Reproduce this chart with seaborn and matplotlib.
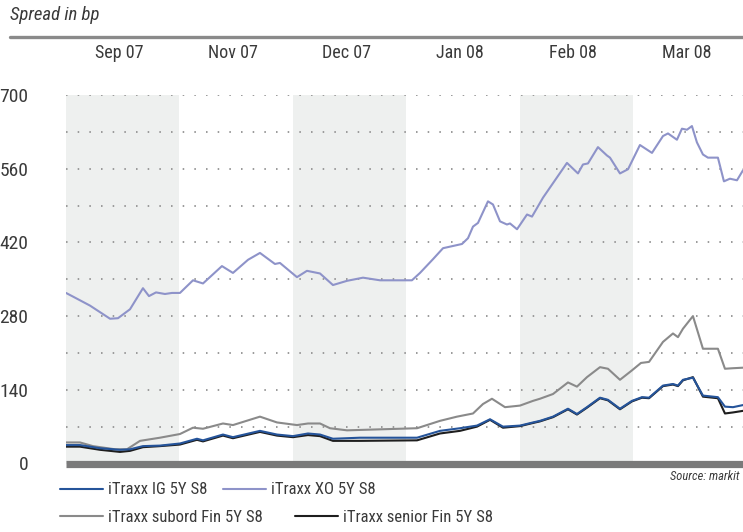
import matplotlib
matplotlib.use("Agg")
import matplotlib.pyplot as plt
from matplotlib import font_manager
import seaborn as sns
import pandas as pd

# ---------------- data ----------------
month_labels = ["Sep 07", "Nov 07", "Dec 07", "Jan 08", "Feb 08", "Mar 08"]
y_ticks = [0, 140, 280, 420, 560, 700]
grid_levels = [70, 140, 210, 280, 350, 420, 490, 560, 630, 700]

xo_x = [0.0, 0.062, 0.211, 0.388, 0.458, 0.564, 0.678, 0.731, 0.793, 0.872, 0.934,
        1.004, 1.119, 1.207, 1.374, 1.471, 1.604, 1.709, 1.841, 1.885, 2.035, 2.123,
        2.238, 2.352, 2.476, 2.617, 2.767, 3.048, 3.119, 3.233, 3.322, 3.489, 3.542,
        3.586, 3.630, 3.718, 3.762, 3.824, 3.885, 3.912, 3.974, 4.062, 4.106, 4.203,
        4.414, 4.511, 4.555, 4.599, 4.687, 4.767, 4.793, 4.881, 4.952, 5.057, 5.163,
        5.260, 5.304, 5.383, 5.427, 5.471, 5.515, 5.559, 5.612, 5.656, 5.744, 5.797,
        5.850, 5.912, 5.965]
xo_y = [324, 317, 300, 275, 276, 293, 333, 318, 325, 322, 324,
        324, 348, 342, 375, 362, 387, 400, 379, 381, 354, 366,
        361, 339, 347, 353, 348, 348, 362, 388, 409, 417, 428,
        450, 457, 498, 492, 460, 454, 456, 445, 473, 469, 505,
        571, 551, 568, 570, 601, 585, 581, 551, 559, 605, 590,
        622, 627, 615, 636, 634, 641, 610, 587, 581, 581, 536,
        541, 538, 557]

sub_x = [0.0, 0.123, 0.238, 0.432, 0.537, 0.652, 0.828, 1.004, 1.119, 1.207, 1.383,
         1.471, 1.709, 1.859, 2.035, 2.132, 2.238, 2.326, 2.476, 3.093, 3.295, 3.445,
         3.586, 3.674, 3.753, 3.868, 4.000, 4.115, 4.176, 4.291, 4.423, 4.502, 4.590,
         4.705, 4.775, 4.881, 4.987, 5.066, 5.137, 5.260, 5.348, 5.392, 5.436, 5.524,
         5.612, 5.744, 5.806, 5.877, 5.965]
sub_y = [40, 40, 33, 27, 27, 43, 49, 56, 68, 66, 76,
         73, 89, 78, 73, 76, 76, 67, 63, 67, 81, 89,
         95, 113, 123, 107, 110, 119, 123, 132, 154, 146, 164,
         183, 180, 159, 177, 191, 193, 231, 247, 240, 256, 280,
         218, 218, 180, 181, 182]

fin_x = [0.0, 0.123, 0.300, 0.476, 0.564, 0.678, 0.828, 1.004, 1.154, 1.207, 1.383,
         1.471, 1.709, 1.859, 2.000, 2.132, 2.238, 2.352, 2.590, 3.093, 3.295, 3.471,
         3.621, 3.736, 3.850, 4.000, 4.115, 4.176, 4.291, 4.423, 4.502, 4.590, 4.705,
         4.775, 4.881, 4.987, 5.075, 5.137, 5.260, 5.348, 5.392, 5.436, 5.524, 5.612,
         5.744, 5.806, 5.877, 5.965]
ig_y = [35, 35, 29, 26, 27, 33, 34, 38, 47, 44, 55,
        50, 62, 55, 52, 57, 55, 47, 49, 49, 62, 67,
        72, 84, 70, 72, 78, 81, 89, 104, 94, 107, 125,
        121, 104, 119, 126, 125, 148, 151, 148, 159, 163, 129,
        126, 108, 107, 111]
senior_y = [32, 32, 26, 22, 24, 31, 33, 36, 45, 42, 53,
            48, 60, 53, 50, 54, 52, 43, 43, 44, 57, 62,
            70, 83, 68, 71, 77, 80, 88, 103, 93, 106, 124,
            120, 103, 118, 125, 124, 147, 150, 147, 158, 164, 127,
            124, 95, 97, 100]

# ---------------- style ----------------
sns.set_theme(style="white")
avail = {f.name for f in font_manager.fontManager.ttflist}
fam = "DejaVu Sans"
for cand in ["Liberation Sans Narrow", "Roboto Condensed", "Open Sans Condensed", "DejaVu Sans Condensed"]:
    if cand in avail:
        fam = cand
        break
plt.rcParams["font.family"] = [fam, "DejaVu Sans"]

c_ig = "#25549a"
c_xo = "#8e93c9"
c_sub = "#8a8a8a"
c_sen = "#1e1e1e"
txt = "#3a3a3a"

fig = plt.figure(figsize=(7.43, 5.32), dpi=100)
ax = fig.add_axes([66 / 743, (532 - 463.5) / 532, 1 - 66 / 743, 368.5 / 532])

# shaded alternate months
for i in range(0, len(month_labels), 2):
    ax.axvspan(i, i + 1, color="#eef0ef", lw=0, zorder=0)

# dotted grid
for g in grid_levels:
    ax.axhline(g, color="#9a9a9a", lw=1.4, ls=(0, (0.8, 5.2)), zorder=1)

df = pd.concat([
    pd.DataFrame({"x": fin_x, "y": ig_y, "s": "iTraxx IG 5Y S8"}),
    pd.DataFrame({"x": xo_x, "y": xo_y, "s": "iTraxx XO 5Y S8"}),
    pd.DataFrame({"x": sub_x, "y": sub_y, "s": "iTraxx subord Fin 5Y S8"}),
    pd.DataFrame({"x": fin_x, "y": senior_y, "s": "iTraxx senior Fin 5Y S8"}),
])
palette = {"iTraxx IG 5Y S8": c_ig, "iTraxx XO 5Y S8": c_xo,
           "iTraxx subord Fin 5Y S8": c_sub, "iTraxx senior Fin 5Y S8": c_sen}
order = ["iTraxx subord Fin 5Y S8", "iTraxx XO 5Y S8", "iTraxx senior Fin 5Y S8", "iTraxx IG 5Y S8"]
for name in order:
    sub = df[df["s"] == name]
    sns.lineplot(data=sub, x="x", y="y", color=palette[name], lw=1.5, ax=ax,
                 label=name, legend=False, zorder=3, estimator=None, sort=False)

ax.set_xlim(0, 5.965)
ax.set_ylim(0, 700)
ax.set_xlabel("")
ax.set_ylabel("")

# x labels on top
ax.xaxis.tick_top()
ax.set_xticks([i + 0.47 for i in range(len(month_labels))])
ax.set_xticklabels(month_labels, fontsize=13, color=txt)
ax.tick_params(axis="x", length=0, pad=24)

ax.set_yticks(y_ticks)
ax.set_yticklabels([str(v) for v in y_ticks], fontsize=14, color=txt)
ax.tick_params(axis="y", length=0, pad=27)

for s in ["top", "right", "left"]:
    ax.spines[s].set_visible(False)
ax.spines["bottom"].set_color("#7a7a7a")
ax.spines["bottom"].set_linewidth(5.2)
ax.spines["bottom"].set_capstyle("butt")

# header
fig.text(10 / 743, 1 - 15 / 532, "Spread in bp", fontsize=13.5, style="italic",
         color=txt, va="center", ha="left")
fig.add_artist(plt.Line2D([10 / 743, 1], [1 - 36.7 / 532] * 2, color="#8a8a8a", lw=2.4))
fig.text(740 / 743, 1 - 476 / 532, "Source: markit", fontsize=9, style="italic",
         color=txt, va="center", ha="right")

# legends (two rows)
h = {l.get_label(): l for l in ax.get_lines() if not l.get_label().startswith("_")}
leg1 = fig.legend([h["iTraxx IG 5Y S8"], h["iTraxx XO 5Y S8"]],
                  ["iTraxx IG 5Y S8", "iTraxx XO 5Y S8"], ncol=2,
                  loc="center left", bbox_to_anchor=(60 / 743, 1 - 490 / 532),
                  frameon=False, fontsize=12, handlelength=2.6, handletextpad=0.3,
                  columnspacing=0.9, borderpad=0, borderaxespad=0)
for t in leg1.get_texts():
    t.set_color(txt)
leg2 = fig.legend([h["iTraxx subord Fin 5Y S8"], h["iTraxx senior Fin 5Y S8"]],
                  ["iTraxx subord Fin 5Y S8", "iTraxx senior Fin 5Y S8"], ncol=2,
                  loc="center left", bbox_to_anchor=(60 / 743, 1 - 517 / 532),
                  frameon=False, fontsize=12, handlelength=2.6, handletextpad=0.3,
                  columnspacing=1.9, borderpad=0, borderaxespad=0)
for t in leg2.get_texts():
    t.set_color(txt)

fig.savefig("out.png", dpi=100)
